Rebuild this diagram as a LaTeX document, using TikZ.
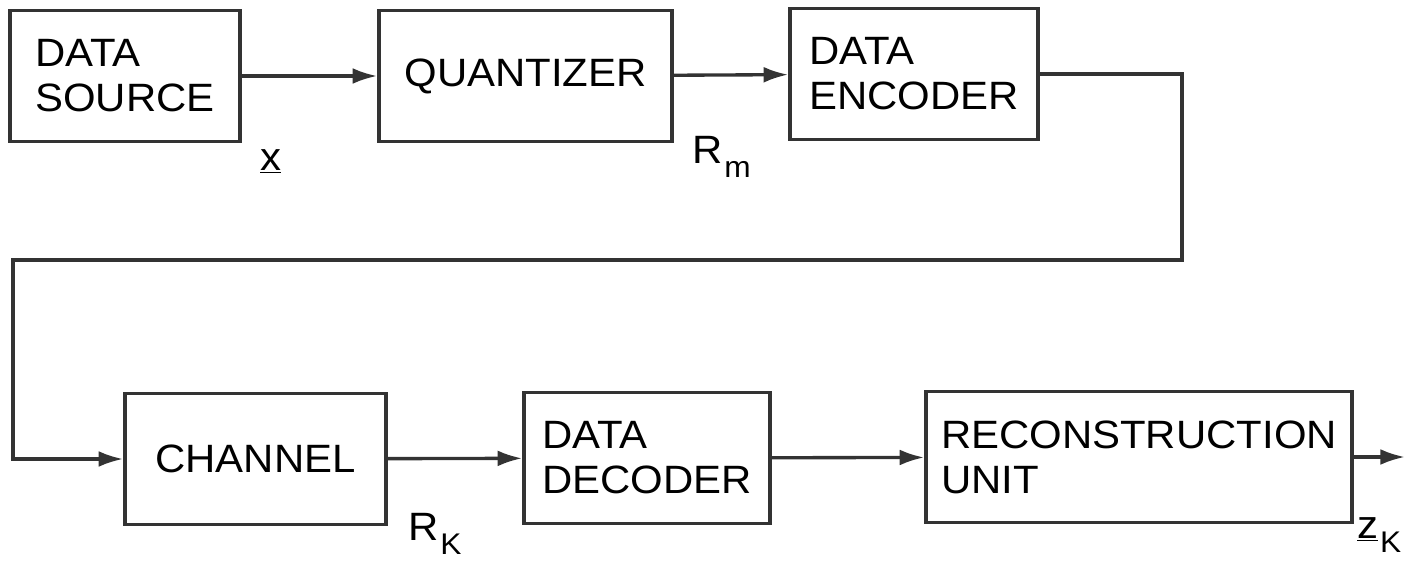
\documentclass[tikz,border=0pt]{standalone}
\usepackage{fontspec}
\setmainfont[FakeStretch=1.06]{Liberation Sans}
\usetikzlibrary{arrows.meta,positioning}

\newcommand{\lowidx}[1]{\kern1pt\raisebox{-8.5pt}{\fontsize{17}{20}\selectfont #1}}

\begin{document}
\begin{tikzpicture}[
            x=0.02cm, y=-0.02cm,
            font=\fontsize{22.5}{25.6}\selectfont,
            block/.style={draw=black!80, line width=2pt, inner sep=0pt,
            align=left, minimum height=2.62cm},
            flow/.style={-{Latex[length=14pt,width=9pt]}, draw=black!80,
            line width=1.9pt},
            sig/.style={inner sep=0pt}
        ]
            \useasboundingbox (0,0) rectangle (1414,565);

% --- top row: source side ---
            \node[block, minimum width=4.6cm]   (src)   at (125,76)    {DATA\\SOURCE};
            \node[block, minimum width=5.86cm]  (quant) at (525.5,76)  {QUANTIZER};
            \node[block, minimum width=4.96cm]  (enc)   at (914,74)    {DATA\\ENCODER};

% --- bottom row: receiver side ---
            \node[block, minimum width=5.22cm]  (chan)  at (255.5,459) {CHANNEL};
            \node[block, minimum width=4.92cm]  (dec)   at (647,458)   {DATA\\DECODER};
            \node[block, minimum width=8.52cm]  (rec)   at (1139,457)  {RECONSTRUCTION\\UNIT};

% --- turning points of the return line and the free output end ---
            \coordinate (turnR) at (1182,260);
            \coordinate (turnL) at (13,260);
            \coordinate (out)   at (1405,457);

% signal labels
            \node[sig, anchor=base west] (lx)  at (260,170)  {\underline{x}};
            \node[sig, anchor=base west] (lrm) at (692,163)  {R\lowidx{m}};
            \node[sig, anchor=base west] (lrk) at (408,540)  {R\lowidx{K}};
            \node[sig, anchor=base west] (lzk) at (1357,538) {\underline{z}\lowidx{K}};

% forward flow
            \draw[flow] (src)   -- (quant);
            \draw[flow] (quant) -- (enc);
            \draw[flow] (enc.east) -| (turnR) -- (turnL) |- (chan.west);
            \draw[flow] (chan)  -- (dec);
            \draw[flow] (dec)   -- (rec);
            \draw[flow] (rec.east) -- (out);
        \end{tikzpicture}
\end{document}
